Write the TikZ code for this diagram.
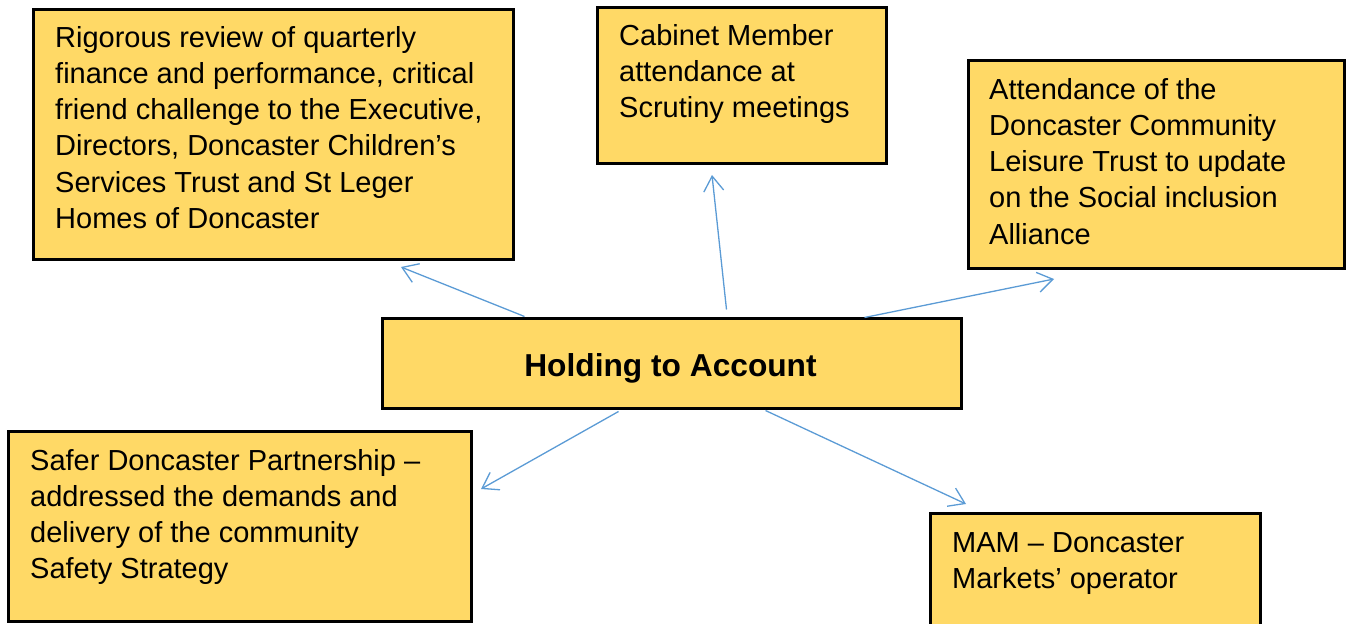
\documentclass[tikz,border=0pt]{standalone}
\usepackage{fontspec}
\setmainfont{Liberation Sans}
\usetikzlibrary{arrows.meta,calc}
\definecolor{boxfill}{RGB}{255,217,102}
\definecolor{arrowblue}{RGB}{91,155,213}
\begin{document}
\begin{tikzpicture}[x=1pt,y=-1pt,
  box/.style={draw=black, line width=3pt, fill=boxfill, rectangle, inner sep=0pt, anchor=north west},
  txt/.style={anchor=base west, inner sep=0pt, font=\fontsize{29}{36.3}\selectfont},
  conn/.style={draw=arrowblue, line width=1.3pt, -{Straight Barb[length=15pt,width=20pt]}}]
\useasboundingbox (0,0) rectangle (1350,624);
\begin{scope}
\clip (0,0) rectangle (1350,624);
% boxes
\node[box, minimum width=480pt, minimum height=250pt] (b1) at (32,8) {};
\node[box, minimum width=289pt, minimum height=156pt] (b2) at (596,6) {};
\node[box, minimum width=376pt, minimum height=208pt] (b3) at (967,59) {};
\node[box, minimum width=579pt, minimum height=90pt, anchor=center] (hold) at (671.5,363) {};
\node[box, minimum width=463pt, minimum height=190pt] (b4) at (7,430) {};
\node[box, minimum width=330pt, minimum height=150pt] (b5) at (929,512) {};
\end{scope}
% texts
\node[txt] (t1) at (55,47) {\parbox[t]{460pt}{Rigorous review of quarterly\\finance and performance, critical\\friend challenge to the Executive,\\Directors, Doncaster Children’s\\Services Trust and St Leger\\Homes of Doncaster}};
\node[txt] (t2) at (619,45) {\parbox[t]{260pt}{Cabinet Member\\attendance at\\Scrutiny meetings}};
\node[txt] (t3) at (989,99) {\parbox[t]{350pt}{Attendance of the\\Doncaster Community\\Leisure Trust to update\\on the Social inclusion\\Alliance}};
\node[anchor=base, inner sep=0pt, font=\fontsize{31.7}{38}\selectfont\bfseries] (th) at (670.5,376) {Holding to Account};
\node[txt] (t4) at (30,470) {\parbox[t]{440pt}{Safer Doncaster Partnership –\\addressed the demands and\\delivery of the community\\Safety Strategy}};
\node[txt] (t5) at (952,552) {\parbox[t]{300pt}{MAM – Doncaster\\Markets’ operator}};
% arrow end points
\coordinate (e1) at (401,267);
\coordinate (e2) at (712,175);
\coordinate (e3) at (1054,279);
\coordinate (e4) at (481,489);
\coordinate (e5) at (966,504);
\draw[conn] ($(hold.north west)+(144,0)$) -- (e1);
\draw[conn] ($(hold.north west)+(346,-7)$) -- (e2);
\draw[conn] ($(hold.north west)+(484,1)$) -- (e3);
\draw[conn] ($(hold.south west)+(238,2)$) -- (e4);
\draw[conn] ($(hold.south west)+(385,1)$) -- (e5);
\end{tikzpicture}
\end{document}
